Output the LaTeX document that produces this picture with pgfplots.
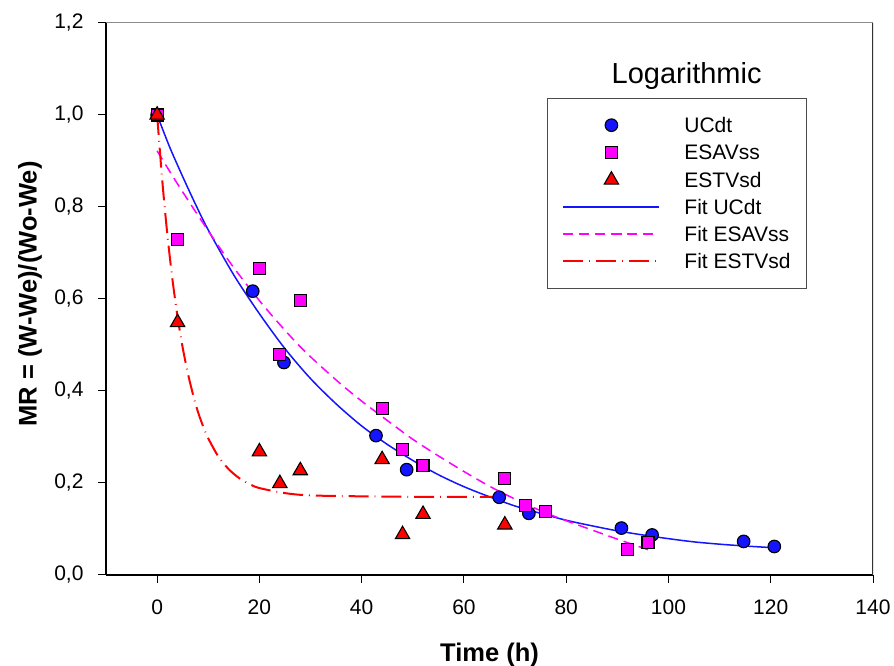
\documentclass[border=0pt]{standalone}
\usepackage{fontspec}
\setmainfont{Liberation Sans}
\usepackage{pgfplots}
\pgfplotsset{compat=1.18}
\definecolor{mag}{RGB}{255,0,255}
\definecolor{blu}{RGB}{20,20,255}
\begin{document}
\begin{tikzpicture}
\begin{axis}[
  at={(0,0)}, anchor=south west,
  scale only axis, width=767pt, height=552pt,
  xmin=-10, xmax=140, ymin=0, ymax=1.2,
  enlargelimits=false,
  axis x line*=bottom, axis y line*=left,
  axis line style={-, line width=1.5pt, black},
  xtick={0,20,40,60,80,100,120,140},
  ytick={0,0.2,0.4,0.6,0.8,1.0,1.2},
  tick align=outside, major tick length=8pt,
  tick style={black, line width=1pt},
  minor tick num=0,
  /pgf/number format/assume math mode=true,
  tick label style={font=\fontsize{21}{24}\selectfont},
  y tick label style={xshift=-11pt, /pgf/number format/.cd, fixed, fixed zerofill, precision=1, use comma},
  x tick label style={yshift=-13pt},
  xlabel={\bfseries Time (h)},
  ylabel={\bfseries MR = (W-We)/(Wo-We)},
  label style={font=\fontsize{25.5}{26}\selectfont},
  xlabel style={at={([yshift=-86.7pt]axis description cs:0.5,0)}, anchor=base},
  ylabel style={at={([xshift=-69.3pt]axis description cs:0,0.509)}, anchor=base},
  legend style={at={(0.5746,0.8647)}, anchor=north west, draw=black!70,
    fill=white, inner xsep=15.5pt, inner ysep=19.8pt, row sep=12pt, column sep=24pt,
    font=\fontsize{21}{21}\selectfont,
    nodes={inner sep=0pt, text height=15pt, text depth=0pt}},
  legend cell align=left,
  legend image code/.code={\draw[mark repeat=2,mark phase=2,#1] plot coordinates {(0pt,0pt) (48pt,0pt) (96pt,0pt)};},
]
% measured points
\addplot[only marks, mark=*, mark size=6.3pt, mark options={fill=blu, draw=black, line width=1.1pt, solid}] coordinates {
  (0,1.0) (18.7,0.617) (24.8,0.462) (42.8,0.303) (48.8,0.229) (66.9,0.169)
  (72.7,0.134) (90.8,0.102) (96.8,0.087) (114.7,0.073) (120.7,0.062)};
\addlegendentry{UCdt}
\addplot[only marks, mark=square*, mark size=6pt, mark options={fill=mag, draw=black, line width=1.1pt, solid}] coordinates {
  (0,1.0) (4,0.730) (20,0.666) (24,0.480) (28,0.596) (44,0.361) (48,0.272)
  (52,0.238) (68,0.210) (72,0.151) (76,0.139) (92,0.055) (96,0.070)};
\addlegendentry{ESAVss}
\addplot[only marks, mark=triangle*, mark size=8.3pt, mark options={fill=red, draw=black, line width=1.1pt, solid}] coordinates {
  (0,1.0) (4,0.549) (20,0.268) (24,0.199) (28,0.227) (44,0.251) (48,0.088)
  (52,0.132) (68,0.109)};
\addlegendentry{ESTVsd}
% fitted curves
\addplot[blu, line width=1.5pt, smooth, no marks] coordinates {
  (0,1.000) (2.5,0.929) (5,0.866) (7.5,0.806) (10,0.750) (15,0.652) (20,0.568)
  (25,0.492) (30,0.427) (35,0.372) (40,0.324) (45,0.284) (50,0.249) (55,0.218)
  (60,0.192) (65,0.170) (70,0.150) (75,0.134) (80,0.119) (85,0.107) (90,0.096)
  (95,0.087) (100,0.079) (105,0.072) (110,0.067) (115,0.063) (121,0.059)};
\addlegendentry{Fit UCdt}
\addplot[mag, line width=1.5pt, smooth, no marks, dash pattern=on 10pt off 6pt] coordinates {
  (0,0.922) (4,0.850) (10,0.748) (15,0.668) (21,0.583) (28,0.496) (35,0.424)
  (40,0.378) (45,0.336) (50,0.295) (55,0.259) (60,0.225) (65,0.193) (70,0.165)
  (76,0.135) (80,0.118) (85,0.098) (90,0.078) (96,0.055)};
\addlegendentry{Fit ESAVss}
\addplot[red, line width=2pt, smooth, no marks, dash pattern=on 20pt off 6pt on 0.8pt off 6pt] coordinates {
  (0,1.0) (1,0.858) (2,0.740) (3,0.642) (4,0.561) (5,0.494) (6,0.439) (7,0.393)
  (8,0.354) (9,0.323) (10,0.297) (12,0.257) (14,0.230) (16,0.211) (18,0.198)
  (20,0.189) (25,0.178) (30,0.173) (40,0.171) (50,0.170) (60,0.170) (68,0.170)};
\addlegendentry{Fit ESTVsd}
\draw[black!45, line width=1pt] (rel axis cs:0,1) -- (rel axis cs:1,1);
\draw[black!80, line width=2pt] (rel axis cs:1,1) -- (rel axis cs:1,0);
\node[anchor=base, font=\fontsize{29}{29}\selectfont] at (rel axis cs:0.757,0.8908) {Logarithmic};
\end{axis}
\pgfresetboundingbox
\path[use as bounding box] (-106pt,-91pt) rectangle (788pt,575pt);
\end{tikzpicture}
\end{document}
